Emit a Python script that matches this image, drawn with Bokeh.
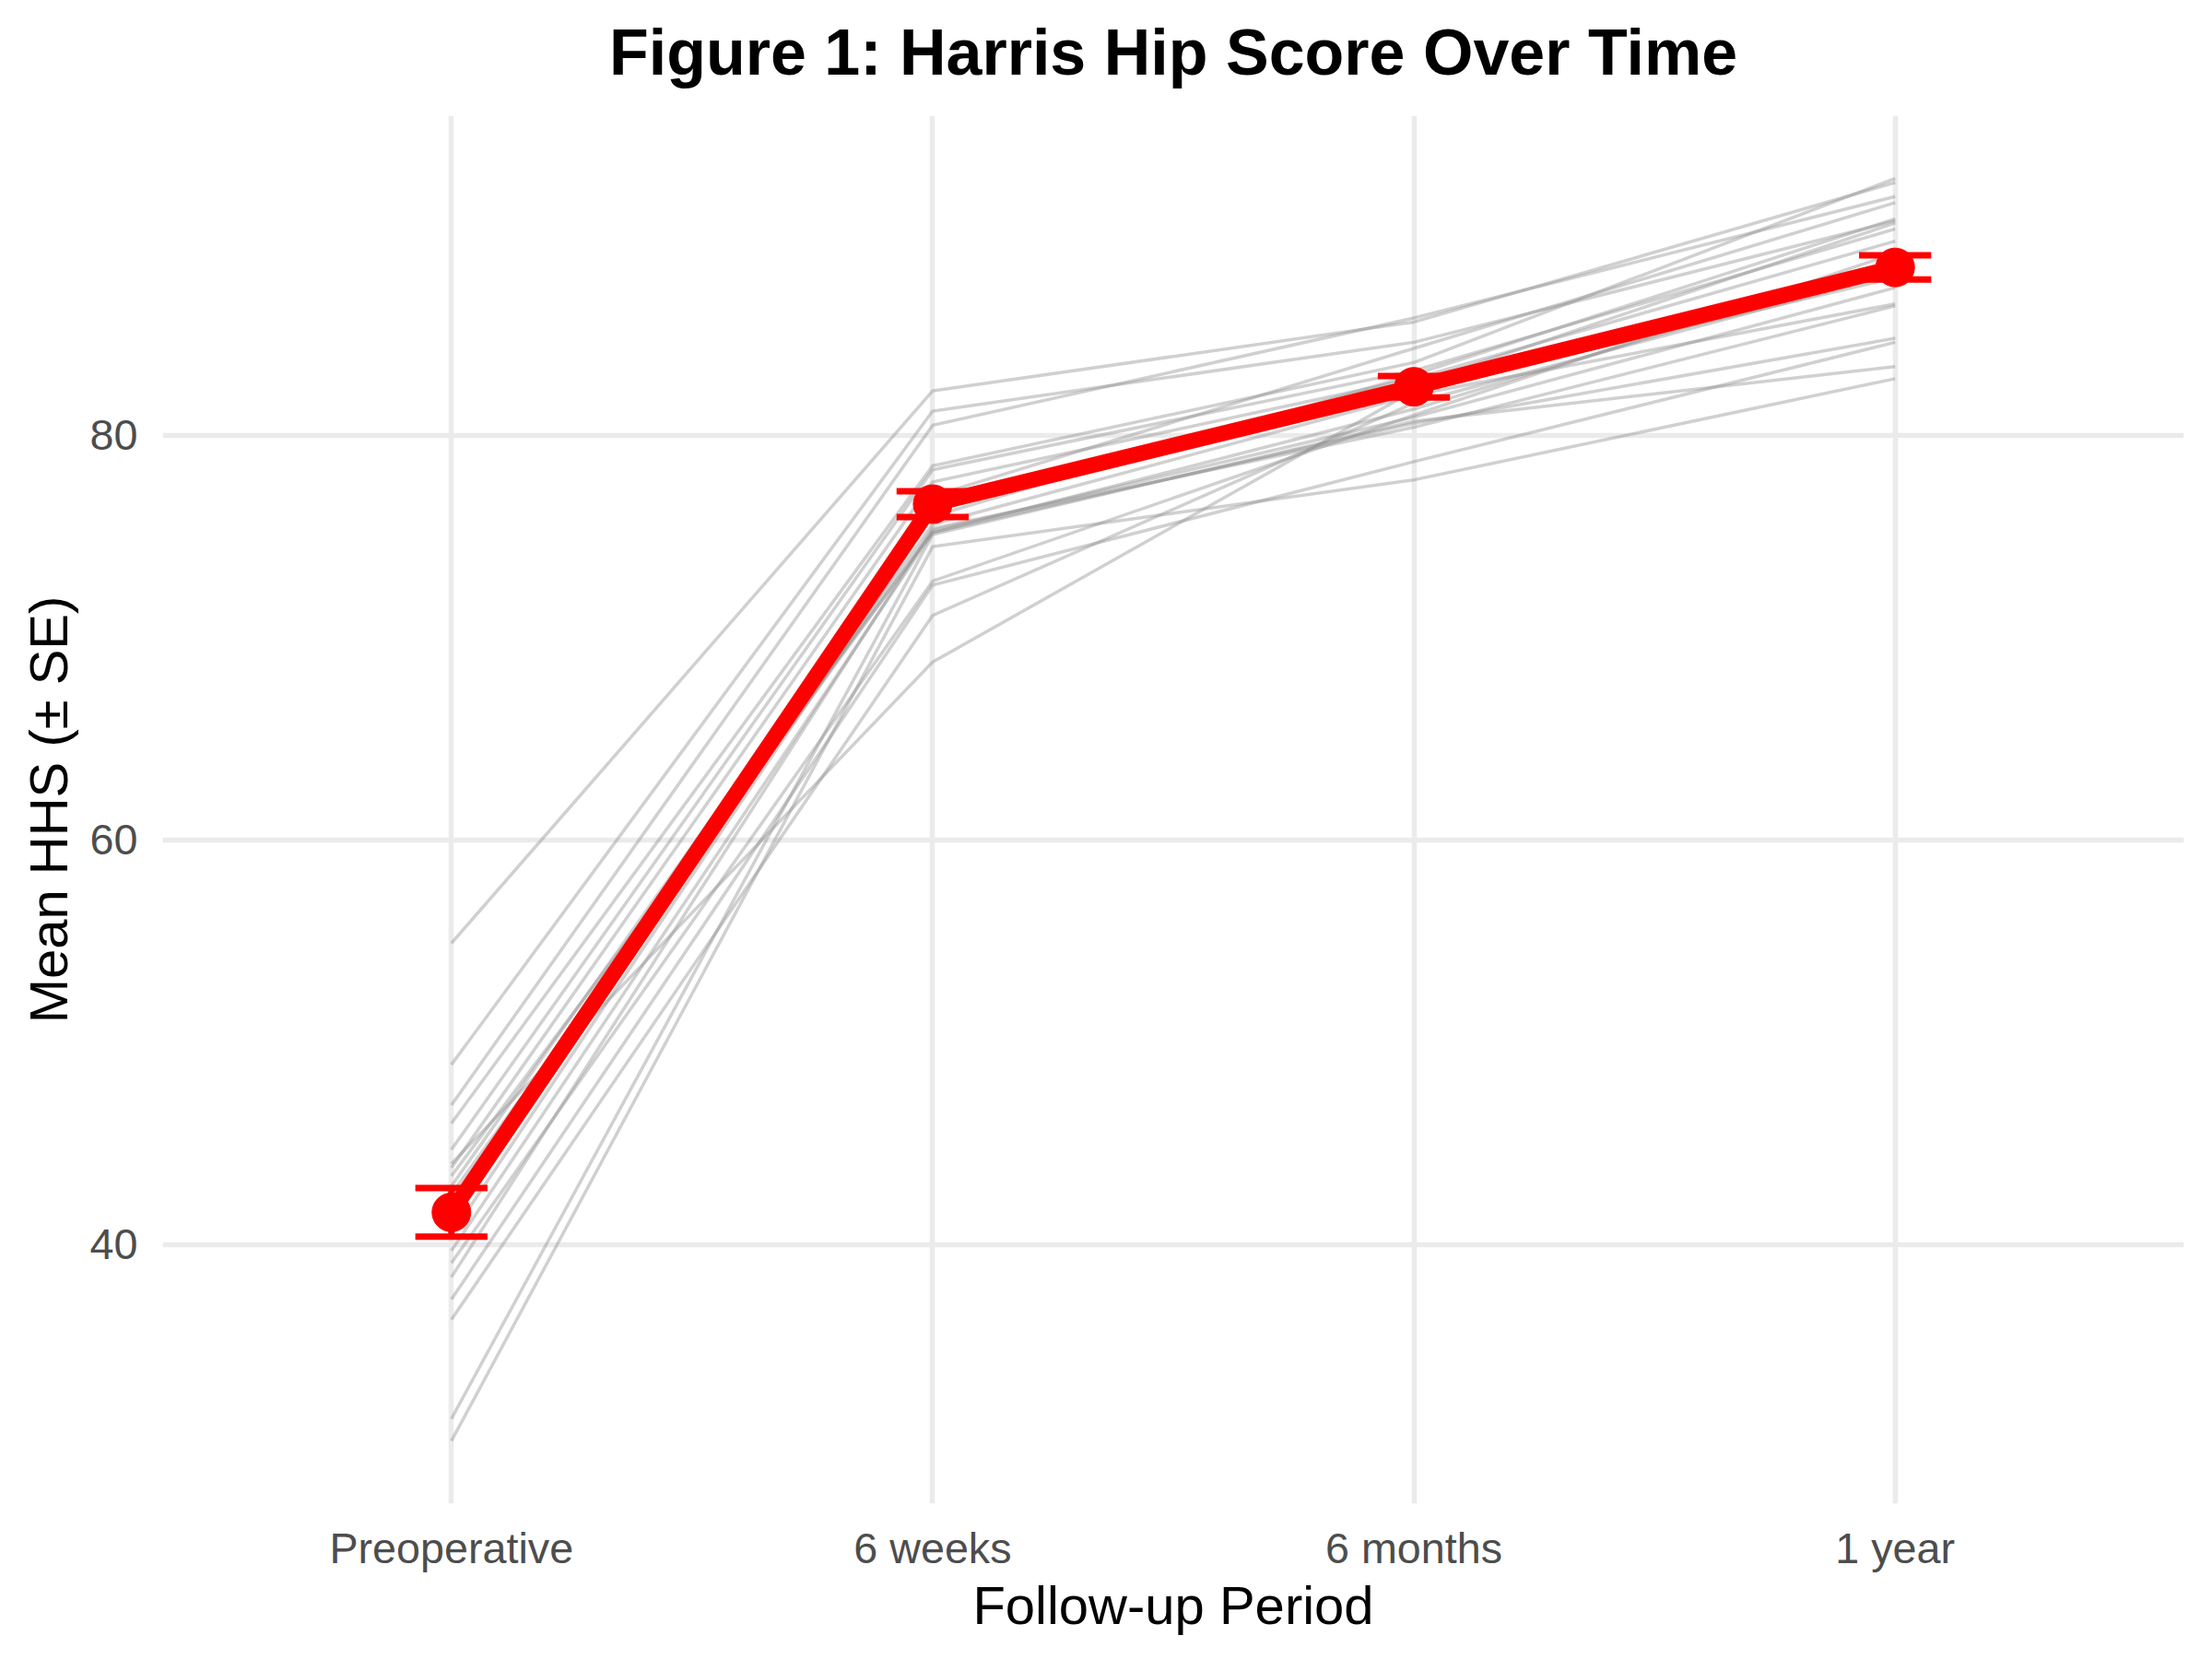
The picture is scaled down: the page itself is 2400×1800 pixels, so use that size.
from bokeh.plotting import figure
from bokeh.models import FixedTicker, Range1d, Title
from bokeh.embed import file_html
from bokeh.resources import INLINE

periods = ["Preoperative", "6 weeks", "6 months", "1 year"]

# individual patient scores at each follow-up
hhs_preop = [54.9, 48.9, 46.9, 46.0, 44.7, 43.8, 43.4, 42.9, 42.5, 42.0,
             41.5, 39.7, 39.1, 38.4, 37.3, 36.3, 31.4, 30.3, 44.0, 40.5]
hhs_6w    = [82.2, 81.2, 80.5, 78.5, 78.3, 77.7, 75.2, 76.5, 75.3, 75.6,
             77.0, 75.2, 72.8, 75.4, 72.6, 71.1, 75.1, 74.5, 68.8, 76.0]
hhs_6m    = [85.6, 84.6, 85.8, 83.6, 83.2, 82.8, 81.3, 82.5, 80.9, 82.0,
             84.3, 80.6, 81.0, 80.4, 78.7, 81.6, 80.7, 77.8, 82.2, 83.0]
hhs_1y    = [92.5, 90.6, 91.8, 92.7, 90.2, 89.6, 88.5, 90.5, 87.3, 86.5,
             91.5, 84.8, 89.0, 86.4, 84.6, 88.0, 83.4, 82.8, 87.8, 90.7]

mean_hhs = [41.6, 76.6, 82.4, 88.3]
se_hhs = [1.2, 0.64, 0.53, 0.6]

title_text = "Figure 1: Harris Hip Score Over Time"

xs = list(range(len(periods)))

p = figure(width=2384, height=1784, output_backend="svg", toolbar_location=None,
           x_range=Range1d(-0.6, 3.6), y_range=Range1d(27.2, 95.8),
           min_border_left=176, min_border_right=15, min_border_top=125,
           min_border_bottom=153, title=None)

# small spacer between the panel and the title
spacer = Title(text=" ", text_font_size="20px", standoff=6, text_color="white")
p.add_layout(spacer, "above")
main_title = Title(text=title_text, text_font="Liberation Sans", text_font_size="70px",
                   text_font_style="bold", text_color="black", align="center",
                   standoff=0)
p.add_layout(main_title, "above")

p.background_fill_color = "white"
p.border_fill_color = "white"
p.outline_line_color = None

# patient trajectories
for i in range(len(hhs_preop)):
    ys = [hhs_preop[i], hhs_6w[i], hhs_6m[i], hhs_1y[i]]
    p.line(xs, ys, line_color="#8f8f8f", line_alpha=0.42, line_width=3.5)

# mean line
p.line(xs, mean_hhs, line_color="#FF0000", line_width=17, line_join="round")
p.scatter(xs, mean_hhs, size=42, fill_color="#FF0000", line_color="#FF0000")

lo = [m - s for m, s in zip(mean_hhs, se_hhs)]
hi = [m + s for m, s in zip(mean_hhs, se_hhs)]
half = 0.075
p.segment(xs, lo, xs, hi, line_color="#FF0000", line_width=7)
p.segment([x - half for x in xs], lo, [x + half for x in xs], lo, line_color="#FF0000", line_width=7)
p.segment([x - half for x in xs], hi, [x + half for x in xs], hi, line_color="#FF0000", line_width=7)

p.xaxis.ticker = FixedTicker(ticks=xs)
p.xaxis.major_label_overrides = {x: lab for x, lab in zip(xs, periods)}
p.yaxis.ticker = FixedTicker(ticks=[40, 60, 80])

for ax in (p.xaxis, p.yaxis):
    ax.axis_line_color = None
    ax.major_tick_line_color = None
    ax.minor_tick_line_color = None
    ax.major_tick_in = 0
    ax.major_tick_out = 0
    ax.minor_tick_in = 0
    ax.minor_tick_out = 0
    ax.major_label_text_font = "Liberation Sans"
    ax.major_label_text_font_size = "46.7px"
    ax.major_label_text_color = "#4D4D4D"
    ax.axis_label_text_font = "Liberation Sans"
    ax.axis_label_text_font_size = "58px"
    ax.axis_label_text_font_style = "normal"
    ax.axis_label_text_color = "black"

p.xaxis.axis_label = "Follow-up Period"
p.yaxis.axis_label = "Mean HHS (± SE)"
p.xaxis.major_label_standoff = 22
p.yaxis.major_label_standoff = 27
p.xaxis.axis_label_standoff = 0
p.yaxis.axis_label_standoff = 10

p.xgrid.grid_line_color = "#EBEBEB"
p.ygrid.grid_line_color = "#EBEBEB"
p.xgrid.grid_line_width = 5.5
p.ygrid.grid_line_width = 5.5
p.xgrid.minor_grid_line_color = None
p.ygrid.minor_grid_line_color = None

open("out.html", "w").write(file_html(p, INLINE))
